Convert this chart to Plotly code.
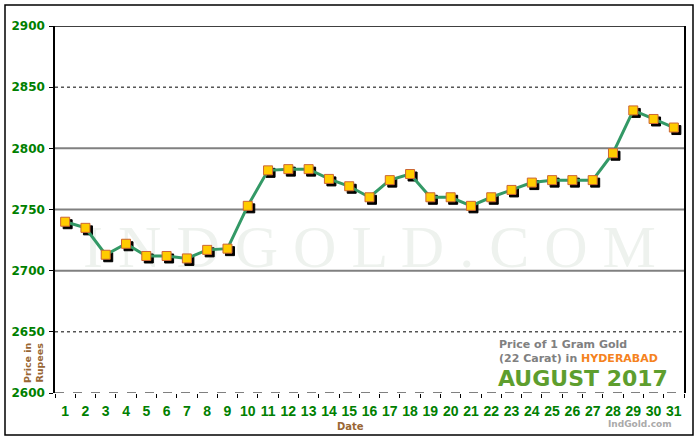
import plotly.graph_objects as go

days = [str(d) for d in range(1, 32)]
prices = [2740, 2735, 2713, 2722, 2712, 2712, 2710, 2717, 2718, 2753,
          2782, 2783, 2783, 2775, 2769, 2760, 2774, 2779, 2760, 2760,
          2753, 2760, 2766, 2772, 2774, 2774, 2774, 2796, 2831, 2824, 2817]
y_ticks = [2600, 2650, 2700, 2750, 2800, 2850, 2900]
grid_solid = [2700, 2750, 2800]
grid_dotted = [2650, 2850]

Y_MIN, Y_MAX = 2600, 2900
W, H = 700, 440
ML, MR, MT, MB = 55, 16, 26, 47
PW, PH = W - ML - MR, H - MT - MB
SX = PW / len(days)
SY = PH / (Y_MAX - Y_MIN)
SHADOW = 2.5

GREEN = "#008000"
BROWN = "#996633"


def px_x(p):
    return (p - ML) / PW


def px_y(p):
    return (MT + PH - p) / PH


fig = go.Figure()

# shadow markers (offset axes)
fig.add_trace(go.Scatter(
    x=days, y=prices, mode="markers", xaxis="x", yaxis="y",
    marker=dict(symbol="square", size=9, color="black", line=dict(width=1, color="black")),
    hoverinfo="skip", showlegend=False, cliponaxis=False))

# main line + markers
fig.add_trace(go.Scatter(
    x=days, y=prices, mode="lines+markers", xaxis="x2", yaxis="y2",
    line=dict(color="#339966", width=3),
    marker=dict(symbol="square", size=9, color="#FFCC00", line=dict(width=1, color="#CC6633")),
    showlegend=False, cliponaxis=False))

shapes = []
# watermark, drawn beneath everything
shapes.append(dict(type="rect", xref="paper", yref="paper",
                   x0=0, x1=1, y0=px_y(265), y1=px_y(215), layer="below",
                   line=dict(width=0), fillcolor="rgba(0,0,0,0)",
                   label=dict(text="I N D G O L D . C O M", textposition="middle center",
                              font=dict(family="Liberation Serif", size=60, color="#eef2ee"))))
for v in grid_solid:
    shapes.append(dict(type="line", xref="paper", x0=0, x1=1, yref="y2", y0=v, y1=v,
                       line=dict(color="#808080", width=2), layer="below"))
for v in grid_dotted:
    shapes.append(dict(type="line", xref="paper", x0=0, x1=1, yref="y2", y0=v, y1=v,
                       line=dict(color="black", width=1, dash="dot"), layer="below"))
shapes.append(dict(type="line", xref="paper", x0=0, x1=1, yref="y2", y0=Y_MAX, y1=Y_MAX,
                   line=dict(color="black", width=1.5)))
shapes.append(dict(type="line", xref="paper", x0=0, x1=1, yref="y2", y0=Y_MIN, y1=Y_MIN,
                   line=dict(color="black", width=1, dash="dash")))
# outer frame
shapes.append(dict(type="rect", xref="paper", yref="paper",
                   x0=px_x(5), x1=px_x(693), y0=px_y(435), y1=px_y(5),
                   line=dict(color="black", width=1.5), fillcolor="rgba(0,0,0,0)"))

annotations = [
    dict(text="Price in<br>Rupees", xref="paper", yref="paper", x=px_x(33), y=px_y(363),
         xanchor="center", yanchor="middle", textangle=-90, showarrow=False,
         font=dict(family="DejaVu Sans", size=9.5, color=BROWN, weight="bold")),
    dict(text="Date", xref="paper", yref="paper", x=px_x(350), y=px_y(426),
         xanchor="center", yanchor="middle", showarrow=False,
         font=dict(family="DejaVu Sans", size=10, color=BROWN, weight="bold")),
    dict(text="Price of 1 Gram Gold<br>(22 Carat) in <span style='color:#F58220'>HYDERABAD</span>",
         xref="paper", yref="paper", x=px_x(497), y=px_y(351), xanchor="left", yanchor="middle",
         align="left", showarrow=False,
         font=dict(family="DejaVu Sans", size=11, color="#808080", weight="bold")),
    dict(text="AUGUST 2017", xref="paper", yref="paper", x=px_x(496), y=px_y(378),
         xanchor="left", yanchor="middle", showarrow=False,
         font=dict(family="DejaVu Sans", size=22, color="#5E9E2E", weight="bold")),
    dict(text="IndGold.com", xref="paper", yref="paper", x=px_x(640), y=px_y(424),
         xanchor="center", yanchor="middle", showarrow=False,
         font=dict(family="DejaVu Sans", size=9, color="#AAAAAA", weight="bold")),
]

fig.update_layout(
    width=W, height=H,
    margin=dict(l=ML, r=MR, t=MT, b=MB, autoexpand=False),
    paper_bgcolor="white", plot_bgcolor="white",
    shapes=shapes, annotations=annotations,
    xaxis=dict(type="category", visible=False, showgrid=False, automargin=False,
               range=[-0.5 - SHADOW / SX, len(days) - 0.5 - SHADOW / SX]),
    yaxis=dict(visible=False, showgrid=False, automargin=False,
               range=[Y_MIN + SHADOW / SY, Y_MAX + SHADOW / SY]),
    xaxis2=dict(type="category", overlaying="x", side="bottom", anchor="y2",
                range=[-0.5, len(days) - 0.5], tickson="boundaries", tickangle=0,
                ticks="outside", ticklen=4, tickcolor="black", showgrid=False, showline=False,
                zeroline=False, automargin=False, ticklabelstandoff=8,
                tickfont=dict(family="Liberation Sans", size=14, color=GREEN, weight="bold")),
    yaxis2=dict(overlaying="y", side="left", anchor="x2", range=[Y_MIN, Y_MAX],
                tickvals=y_ticks, ticks="outside", ticklen=4, tickcolor="black",
                showgrid=False, zeroline=False, showline=True, linecolor="black", linewidth=1.5,
                mirror=True, automargin=False, ticklabelstandoff=2,
                tickfont=dict(family="DejaVu Sans", size=12, color=GREEN, weight="bold")),
)

fig.write_html("out.html", config={"displayModeBar": False},
               post_script="document.body.style.margin='0px';")
